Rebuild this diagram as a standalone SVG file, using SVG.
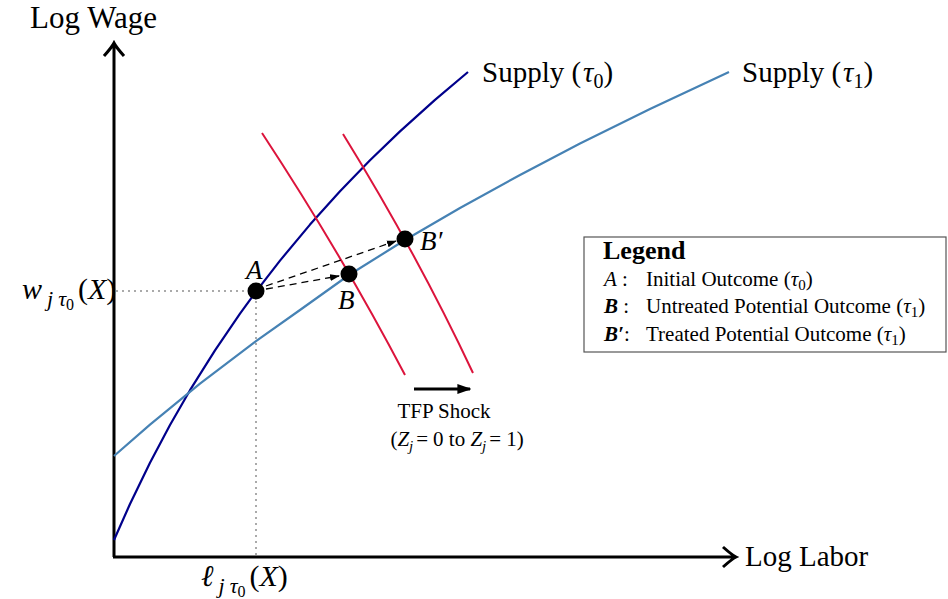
<svg xmlns="http://www.w3.org/2000/svg" width="948" height="599" viewBox="0 0 948 599">
<style>
text{font-family:"Liberation Serif","Times New Roman",serif;fill:#000}
.lab{font-size:29px}
.pt{font-size:27px;font-style:italic}
.it{font-style:italic}
.leg{font-size:21px}
.axis{stroke:#000;stroke-width:3;fill:none}
.dot{fill:#000}
.guide{stroke:#aaa;stroke-width:2;stroke-dasharray:2 4;fill:none}
.dash{stroke:#000;stroke-width:1.3;stroke-dasharray:7 5;fill:none}
</style>
<defs>
<marker id="ah" viewBox="0 0 10 10" refX="9" refY="5" markerWidth="10" markerHeight="10" markerUnits="userSpaceOnUse" orient="auto"><path d="M0,1.5 L10,5 L0,8.5 Z" fill="#000"/></marker>
<marker id="ah2" viewBox="0 0 10 10" refX="9" refY="5" markerWidth="14" markerHeight="14" markerUnits="userSpaceOnUse" orient="auto"><path d="M0,1.5 L10,5 L0,8.5 Z" fill="#000"/></marker>
</defs>
<g id="axes">
<path class="axis" d="M114,557 V44 M104,56 Q112,47 114,43 Q116,47 124,56"/>
<path class="axis" d="M113,557 H735 M723,547 Q732,555 736,557 Q732,559 723,567"/>
<text x="30" y="28" font-size="31">Log Wage</text>
<text class="lab" x="745" y="566">Log Labor</text>
</g>
<g id="guides">
<path class="guide" d="M116,291 H256 V557"/>
</g>
<g id="supply0">
<path d="M114,540 L130,504 L150,462.8 L170,425 L190,390.2 L215,350.3 L240,313.6 L256,291.6 L280,260.6 L310,224.6 L340,191.3 L370,160.3 L400,131.4 L435,99.9 L468,72" fill="none" stroke="#00008b" stroke-width="2.2" stroke-linejoin="round"/>
<text class="lab" x="482" y="82">Supply (<tspan class="it" dx="2">τ</tspan><tspan font-size="20" dy="6">0</tspan><tspan dy="-6">)</tspan></text>
</g>
<g id="supply1">
<path d="M114,456 L150,424.6 L200,383.7 L256,341.2 L300,310 L349,275 L405,240 L460,208 L520,175 L580,143.5 L650,108.9 L729,72" fill="none" stroke="#4682b4" stroke-width="2.2" stroke-linejoin="round"/>
<text class="lab" x="742" y="82">Supply (<tspan class="it" dx="2">τ</tspan><tspan font-size="20" dy="6">1</tspan><tspan dy="-6">)</tspan></text>
</g>
<g id="demand0">
<path d="M262,133 Q341.5,254 405,375" fill="none" stroke="#dc143c" stroke-width="2"/>
</g>
<g id="demand1">
<path d="M343,134 Q416.8,253.5 473,373" fill="none" stroke="#dc143c" stroke-width="2"/>
</g>
<g id="connectors">
<path class="dash" d="M266,289 L339,276" marker-end="url(#ah)"/>
<path class="dash" d="M266,286 L396,241" marker-end="url(#ah)"/>
<path d="M414,389 H470" stroke="#000" stroke-width="3" marker-end="url(#ah2)"/>
</g>
<g id="pointA">
<circle class="dot" cx="256" cy="291" r="8.5"/>
<text class="pt" x="246" y="279">A</text>
</g>
<g id="pointB">
<circle class="dot" cx="349" cy="274" r="8.5"/>
<text class="pt" x="338" y="309">B</text>
</g>
<g id="pointBp">
<circle class="dot" cx="405" cy="239" r="8.5"/>
<text class="pt" x="420" y="250">B′</text>
</g>
<g id="wlabel">
<text x="22" y="299" font-size="30"><tspan class="it">w</tspan><tspan class="it" font-size="22" dx="5" dy="7">j</tspan><tspan class="it" font-size="22" dx="5">τ</tspan><tspan font-size="16" dy="4">0</tspan><tspan dx="4" dy="-11">(</tspan><tspan class="it">X</tspan>)</text>
</g>
<g id="llabel">
<text x="201" y="586" font-size="30"><tspan class="it">ℓ</tspan><tspan class="it" font-size="22" dx="5" dy="7">j</tspan><tspan class="it" font-size="22" dx="5">τ</tspan><tspan font-size="16" dy="4">0</tspan><tspan dx="4" dy="-11">(</tspan><tspan class="it">X</tspan>)</text>
</g>
<g id="shock">
<text x="444" y="418" font-size="21" text-anchor="middle">TFP Shock</text>
<text x="457" y="446" font-size="21" text-anchor="middle">(<tspan class="it">Z</tspan><tspan class="it" font-size="15" dy="5">j</tspan><tspan dy="-5" dx="3">=</tspan><tspan dx="5">0 to </tspan><tspan class="it">Z</tspan><tspan class="it" font-size="15" dy="5">j</tspan><tspan dy="-5" dx="3">=</tspan><tspan dx="5">1)</tspan></text>
</g>
<g id="legend">
<rect x="584" y="237" width="362" height="115" fill="#fff" stroke="#555" stroke-width="1.2"/>
<text x="603" y="259" font-size="26" font-weight="bold">Legend</text>
<text class="leg" x="604" y="286"><tspan class="it">A</tspan> :</text>
<text class="leg" x="646" y="286">Initial Outcome (<tspan class="it">τ</tspan><tspan font-size="15" dy="4">0</tspan><tspan dy="-4">)</tspan></text>
<text class="leg" x="604" y="313"><tspan class="it" font-weight="bold">B</tspan> :</text>
<text class="leg" x="646" y="313">Untreated Potential Outcome (<tspan class="it">τ</tspan><tspan font-size="15" dy="4">1</tspan><tspan dy="-4">)</tspan></text>
<text class="leg" x="604" y="341"><tspan class="it" font-weight="bold">B′</tspan>:</text>
<text class="leg" x="646" y="341">Treated Potential Outcome (<tspan class="it">τ</tspan><tspan font-size="15" dy="4">1</tspan><tspan dy="-4">)</tspan></text>
</g>
</svg>
